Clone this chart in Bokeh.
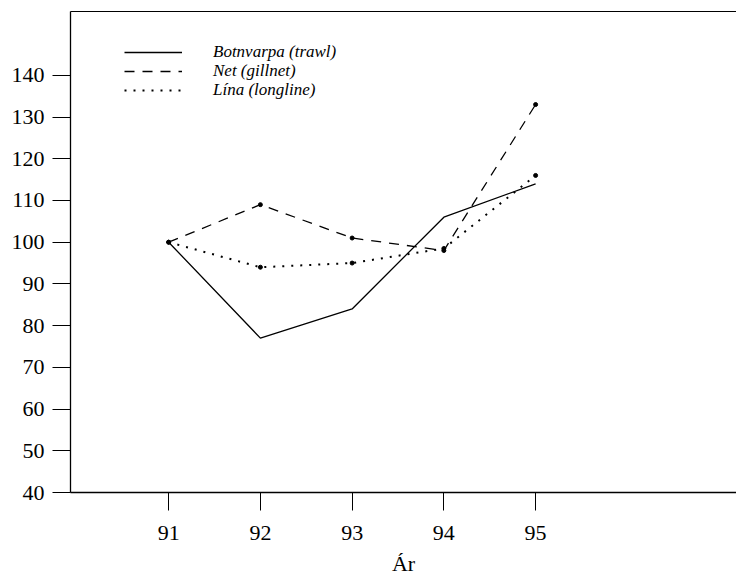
from bokeh.plotting import figure
from bokeh.models import (Range1d, FixedTicker, LinearAxis, Legend, LegendItem)
from bokeh.embed import file_html
from bokeh.resources import INLINE

# Index of catch value by gear type, 1991 = 100
years = [91, 92, 93, 94, 95]
botnvarpa = [100, 77, 84, 106, 114]
net = [100, 109, 101, 98, 133]
lina = [100, 94, 95, 98.5, 116]
y_ticks = [40, 50, 60, 70, 80, 90, 100, 110, 120, 130, 140]
labels = ["Botnvarpa (trawl)", "Net (gillnet)", "Lína (longline)"]

SERIF = "Liberation Serif"

p = figure(width=736, height=578, output_backend="svg", toolbar_location=None,
           x_range=Range1d(89.93, 97.19), y_range=Range1d(40, 155.3),
           min_border_left=70, min_border_right=0, min_border_top=11,
           min_border_bottom=85, x_axis_label="Ár")
p.outline_line_color = None
p.grid.visible = False
p.background_fill_color = "white"
p.border_fill_color = "white"

# bottom axis
xa = p.xaxis[0]
xa.ticker = FixedTicker(ticks=years)
xa.minor_tick_line_color = None
xa.major_tick_out = 18
xa.major_tick_in = 0
xa.major_label_standoff = 15
xa.major_label_text_font = SERIF
xa.major_label_text_font_size = "22px"
xa.major_label_text_color = "black"
xa.axis_label_text_font = SERIF
xa.axis_label_text_font_style = "normal"
xa.axis_label_text_font_size = "22px"
xa.axis_label_text_color = "black"
xa.axis_label_standoff = 8
xa.axis_line_width = 1.3
xa.axis_line_color = "black"
xa.major_tick_line_color = "black"

# left axis
ya = p.yaxis[0]
ya.ticker = FixedTicker(ticks=y_ticks)
ya.minor_tick_line_color = None
ya.major_tick_out = 18
ya.major_tick_in = 0
ya.major_label_standoff = 8
ya.major_label_text_font = SERIF
ya.major_label_text_font_size = "22px"
ya.major_label_text_color = "black"
ya.axis_line_width = 1.3
ya.axis_line_color = "black"
ya.major_tick_line_color = "black"

# thin frame line across the top
top = LinearAxis(ticker=FixedTicker(ticks=[]), major_tick_out=0, major_tick_in=0,
                 minor_tick_line_color=None, major_label_text_font_size="0px",
                 major_label_standoff=0, axis_line_width=1.2, axis_line_color="black")
p.add_layout(top, "above")

r1 = p.line(years, botnvarpa, line_color="black", line_width=1.3)
r2 = p.line(years, net, line_color="black", line_width=1.3, line_dash="10 8")
p.scatter(years, net, size=4, color="black")
r3 = p.line(years, lina, line_color="black", line_width=2, line_dash="2 7")
p.scatter(years, lina, size=4, color="black")

# one single-entry legend per series, stacked
for i, (label, rend) in enumerate(zip(labels, [r1, r2, r3])):
    lg = Legend(items=[LegendItem(label=label, renderers=[rend])],
                location=(54, 430 - 19 * i), padding=0, margin=0, spacing=0,
                label_height=14, glyph_height=14, glyph_width=58, label_standoff=31,
                border_line_color=None, background_fill_alpha=0,
                label_text_font=SERIF, label_text_font_style="italic",
                label_text_font_size="17px", label_text_color="black")
    p.add_layout(lg, "center")

open("out.html", "w").write(file_html(p, INLINE))
